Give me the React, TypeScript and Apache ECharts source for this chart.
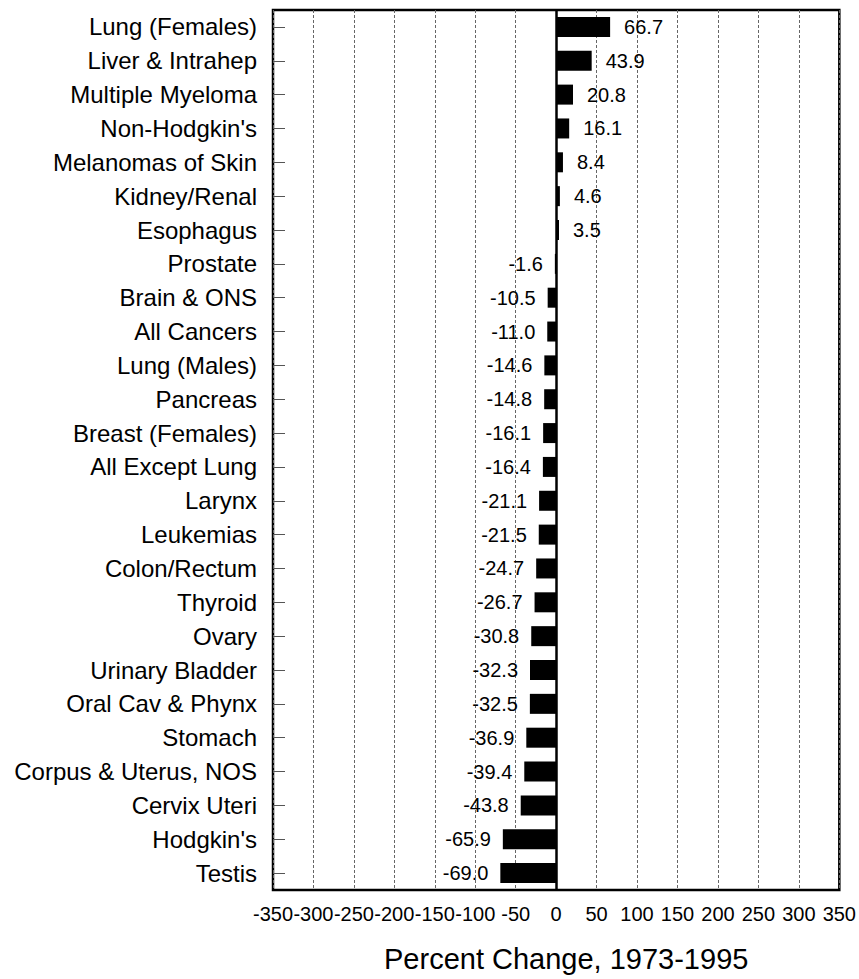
import React, { useEffect, useRef } from "react";
import * as echarts from "echarts";

const categories = [
  "Lung (Females)", "Liver & Intrahep", "Multiple Myeloma", "Non-Hodgkin's",
  "Melanomas of Skin", "Kidney/Renal", "Esophagus", "Prostate", "Brain & ONS",
  "All Cancers", "Lung (Males)", "Pancreas", "Breast (Females)", "All Except Lung",
  "Larynx", "Leukemias", "Colon/Rectum", "Thyroid", "Ovary", "Urinary Bladder",
  "Oral Cav & Phynx", "Stomach", "Corpus & Uterus, NOS", "Cervix Uteri",
  "Hodgkin's", "Testis",
];

const values = [
  66.7, 43.9, 20.8, 16.1, 8.4, 4.6, 3.5, -1.6, -10.5, -11.0, -14.6, -14.8, -16.1,
  -16.4, -21.1, -21.5, -24.7, -26.7, -30.8, -32.3, -32.5, -36.9, -39.4, -43.8,
  -65.9, -69.0,
];

const xMin = -350;
const xMax = 350;
const xStep = 50;
const axisTitle = "Percent Change, 1973-1995";

const FONT = "'Liberation Sans', Arial, Helvetica, sans-serif";

export default function App() {
  const ref = useRef<HTMLDivElement>(null);
  useEffect(() => {
    document.body.style.margin = "0";
    const chart = echarts.init(ref.current!, null, { renderer: "svg" });
    chart.setOption({
      animation: false,
      backgroundColor: "#fff",
      textStyle: { fontFamily: FONT, color: "#000" },
      grid: {
        left: 273,
        right: 18,
        top: 10,
        bottom: 89,
        show: true,
        borderColor: "#000",
        borderWidth: 2.5,
        backgroundColor: "transparent",
      },
      xAxis: {
        type: "value",
        min: xMin,
        max: xMax,
        interval: xStep,
        axisLine: { show: false },
        axisTick: { show: false },
        axisLabel: {
          fontSize: 20,
          color: "#000",
          margin: 14,
          fontFamily: FONT,
        },
        splitLine: {
          show: true,
          lineStyle: { color: "#666", width: 1, type: [3, 2] },
        },
      },
      yAxis: {
        type: "category",
        data: categories,
        inverse: true,
        axisLine: { show: false, onZero: false },
        axisTick: {
          show: true,
          inside: true,
          alignWithLabel: true,
          length: 12,
          lineStyle: { color: "#555", width: 1 },
        },
        axisLabel: {
          fontSize: 24,
          color: "#000",
          margin: 16,
          fontFamily: FONT,
        },
        splitLine: { show: false },
      },
      series: [
        {
          type: "bar",
          data: values.map((v) => ({
            value: v,
            label: {
              show: true,
              position: v >= 0 ? "right" : "left",
              distance: v >= 0 ? 14 : 12,
              formatter: () => v.toFixed(1),
              fontSize: 20,
              color: "#000",
              fontFamily: FONT,
            },
          })),
          barWidth: 20,
          itemStyle: { color: "#000" },
          markLine: {
            silent: true,
            symbol: "none",
            label: { show: false },
            lineStyle: { color: "#000", width: 2.5, type: "solid" },
            data: [{ xAxis: 0 }],
          },
        },
      ],
      graphic: [
        {
          type: "text",
          left: 384,
          top: 944,
          style: {
            text: axisTitle,
            fontSize: 29,
            fontFamily: FONT,
            fill: "#000",
          },
        },
      ],
    });
    return () => chart.dispose();
  }, []);
  return (
    <div
      ref={ref}
      style={{ position: "absolute", left: 0, top: 0, width: 859, height: 979 }}
    />
  );
}
